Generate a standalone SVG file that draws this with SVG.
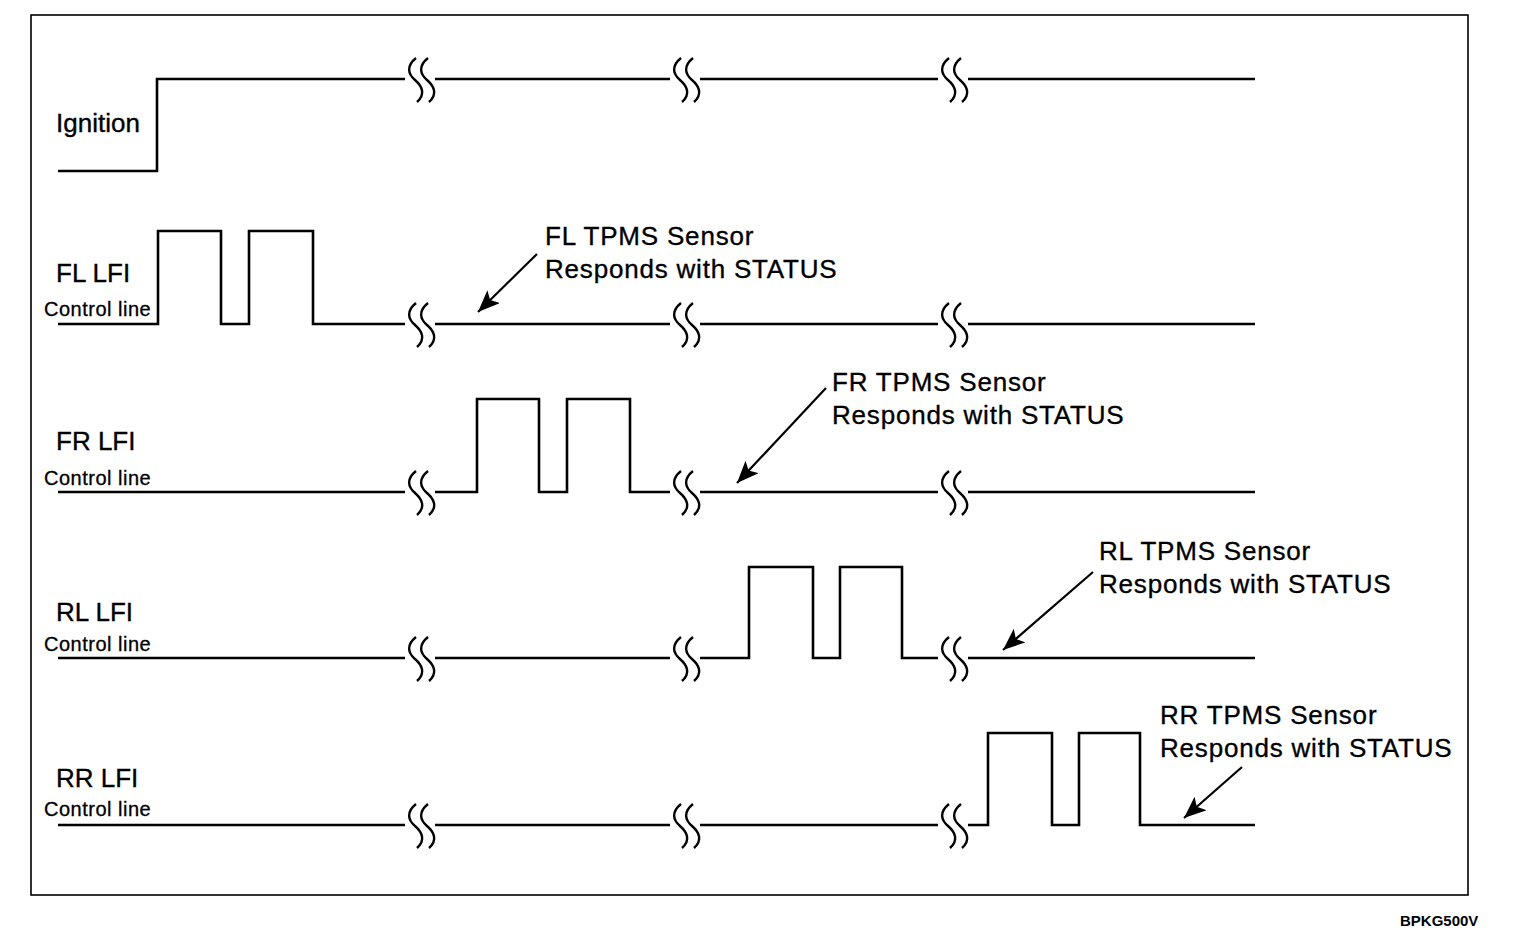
<svg xmlns="http://www.w3.org/2000/svg" xmlns:xlink="http://www.w3.org/1999/xlink" width="1536" height="942" viewBox="0 0 1536 942">
<style>
.sig{fill:none;stroke:#000;stroke-width:2.6;stroke-linejoin:miter;stroke-linecap:butt}
.brk{fill:none;stroke:#000;stroke-width:2.4}
.lbl{font-family:"Liberation Sans",Arial,sans-serif;font-size:26px;fill:#000;stroke:#000;stroke-width:0.35}
.ann{font-family:"Liberation Sans",Arial,sans-serif;font-size:26px;letter-spacing:0.8px;fill:#000;stroke:#000;stroke-width:0.35}
.sub{font-family:"Liberation Sans",Arial,sans-serif;font-size:20px;letter-spacing:0.5px;fill:#000;stroke:#000;stroke-width:0.3}
.code{font-family:"Liberation Sans",Arial,sans-serif;font-size:15px;font-weight:bold;fill:#000}
.arr{fill:none;stroke:#000;stroke-width:2.2}
</style>
<defs>
<path id="brk" class="brk" d="M-4,-22 C-14,-14 -12,-6 -5,0 C2,6 6,14 -3,22 M8,-22 C-2,-14 0,-6 7,0 C14,6 18,14 9,22"/>
<marker id="ah" markerWidth="24" markerHeight="18" refX="22" refY="9" orient="auto" markerUnits="userSpaceOnUse">
<path d="M0,0 L22,9 L0,18 L5,9 Z" fill="#000"/>
</marker>
</defs>
<rect width="1536" height="942" fill="#fff"/>
<rect x="31" y="15" width="1437" height="880" fill="none" stroke="#000" stroke-width="1.6"/>

<g id="ignition">
<text class="lbl" x="56" y="132">Ignition</text>
<polyline class="sig" points="58,171 157,171 157,79 405,79"/>
<polyline class="sig" points="435,79 670,79"/>
<polyline class="sig" points="700,79 938,79"/>
<polyline class="sig" points="968,79 1255,79"/>
<use xlink:href="#brk" x="420" y="80"/>
<use xlink:href="#brk" x="685" y="80"/>
<use xlink:href="#brk" x="953" y="80"/>
</g>

<g id="fl">
<text class="lbl" x="56" y="282">FL LFI</text>
<text class="sub" x="44" y="316">Control line</text>
<polyline class="sig" points="58,324 158,324 158,231 221,231 221,324 249,324 249,231 313,231 313,324 405,324"/>
<polyline class="sig" points="435,324 670,324"/>
<polyline class="sig" points="700,324 938,324"/>
<polyline class="sig" points="968,324 1255,324"/>
<use xlink:href="#brk" x="420" y="325"/>
<use xlink:href="#brk" x="685" y="325"/>
<use xlink:href="#brk" x="953" y="325"/>
<text class="ann" x="545" y="245">FL TPMS Sensor</text>
<text class="ann" x="545" y="278">Responds with STATUS</text>
</g>

<g id="fr">
<text class="lbl" x="56" y="450">FR LFI</text>
<text class="sub" x="44" y="485">Control line</text>
<polyline class="sig" points="58,492 405,492"/>
<polyline class="sig" points="435,492 477,492 477,399 539,399 539,492 567,492 567,399 630,399 630,492 670,492"/>
<polyline class="sig" points="700,492 938,492"/>
<polyline class="sig" points="968,492 1255,492"/>
<use xlink:href="#brk" x="420" y="493"/>
<use xlink:href="#brk" x="685" y="493"/>
<use xlink:href="#brk" x="953" y="493"/>
<text class="ann" x="832" y="391">FR TPMS Sensor</text>
<text class="ann" x="832" y="424">Responds with STATUS</text>
</g>

<g id="rl">
<text class="lbl" x="56" y="621">RL LFI</text>
<text class="sub" x="44" y="651">Control line</text>
<polyline class="sig" points="58,658 405,658"/>
<polyline class="sig" points="435,658 670,658"/>
<polyline class="sig" points="700,658 749,658 749,567 813,567 813,658 840,658 840,567 902,567 902,658 938,658"/>
<polyline class="sig" points="968,658 1255,658"/>
<use xlink:href="#brk" x="420" y="659"/>
<use xlink:href="#brk" x="685" y="659"/>
<use xlink:href="#brk" x="953" y="659"/>
<text class="ann" x="1099" y="560">RL TPMS Sensor</text>
<text class="ann" x="1099" y="593">Responds with STATUS</text>
</g>

<g id="rr">
<text class="lbl" x="56" y="787">RR LFI</text>
<text class="sub" x="44" y="816">Control line</text>
<polyline class="sig" points="58,825 405,825"/>
<polyline class="sig" points="435,825 670,825"/>
<polyline class="sig" points="700,825 938,825"/>
<polyline class="sig" points="968,825 988,825 988,733 1052,733 1052,825 1079,825 1079,733 1140,733 1140,825 1255,825"/>
<use xlink:href="#brk" x="420" y="826"/>
<use xlink:href="#brk" x="685" y="826"/>
<use xlink:href="#brk" x="953" y="826"/>
<text class="ann" x="1160" y="724">RR TPMS Sensor</text>
<text class="ann" x="1160" y="757">Responds with STATUS</text>
</g>

<g id="connectors">
<line class="arr" x1="537" y1="254" x2="478" y2="312" marker-end="url(#ah)"/>
<line class="arr" x1="826" y1="388" x2="737" y2="483" marker-end="url(#ah)"/>
<line class="arr" x1="1093" y1="572" x2="1003" y2="650" marker-end="url(#ah)"/>
<line class="arr" x1="1242" y1="767" x2="1184" y2="818" marker-end="url(#ah)"/>
</g>

<text class="code" x="1400" y="926">BPKG500V</text>
</svg>
